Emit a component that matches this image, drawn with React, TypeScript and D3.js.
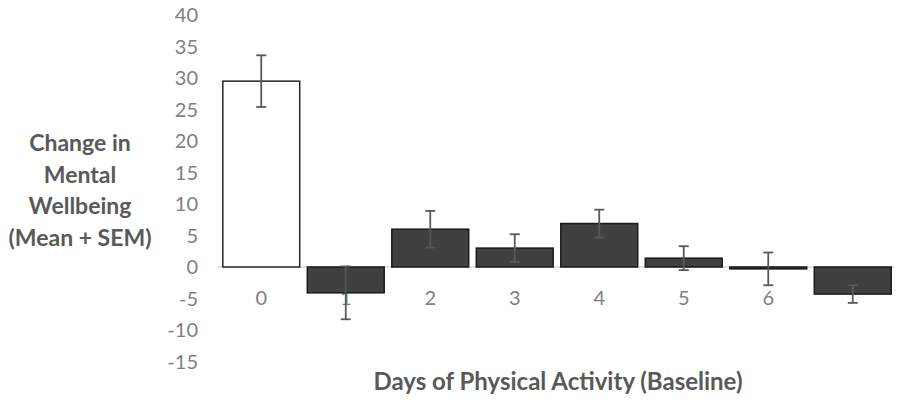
import { useEffect, useRef } from "react";
import * as d3 from "d3";

const days = [0, 1, 2, 3, 4, 5, 6, 7];
const dayLabels = ["0", "1", "2", "3", "4", "5", "6", ""];
const means = [29.5, -4.1, 6.0, 3.0, 6.9, 1.4, -0.3, -4.3];
const sems = [4.1, 4.2, 2.9, 2.2, 2.2, 1.9, 2.6, 1.4];
const yTicks = [40, 35, 30, 25, 20, 15, 10, 5, 0, -5, -10, -15];
const yTitle = ["Change in", "Mental", "Wellbeing", "(Mean + SEM)"];
const xTitle = "Days of Physical Activity (Baseline)";

const W = 906;
const H = 402;
const FONT = "Lato, 'Open Sans', sans-serif";

export default function App() {
  const svgRef = useRef<SVGSVGElement>(null);

  useEffect(() => {
    if (!svgRef.current) return;
    const svg = d3.select(svgRef.current);
    svg.selectAll("*").remove();

    const x = d3.scaleBand<number>().domain(days).range([219, 895]).paddingInner(0.09).paddingOuter(0.045);
    const y = d3.scaleLinear().domain([-15, 40]).range([361.5, 15]);

    // y tick labels
    svg
      .append("g")
      .selectAll("text")
      .data(yTicks)
      .join("text")
      .attr("x", 198)
      .attr("y", (d) => y(d))
      .attr("dy", "0.36em")
      .attr("text-anchor", "end")
      .attr("font-family", FONT)
      .attr("font-size", 20)
      .attr("fill", "#7f7f7f")
      .text((d) => String(d));

    // zero line
    svg
      .append("line")
      .attr("x1", 218)
      .attr("x2", 895)
      .attr("y1", y(0))
      .attr("y2", y(0))
      .attr("stroke", "#d9d9d9")
      .attr("stroke-width", 1.5);

    // category labels
    svg
      .append("g")
      .selectAll("text")
      .data(days)
      .join("text")
      .attr("x", (d) => x(d)! + x.bandwidth() / 2)
      .attr("y", y(0) + 31)
      .attr("dy", "0.36em")
      .attr("text-anchor", "middle")
      .attr("font-family", FONT)
      .attr("font-size", 20)
      .attr("fill", "#7f7f7f")
      .text((d) => dayLabels[d]);

    // bars
    svg
      .append("g")
      .selectAll("rect")
      .data(days)
      .join("rect")
      .attr("x", (d) => x(d)!)
      .attr("width", x.bandwidth())
      .attr("y", (d) => y(Math.max(0, means[d])))
      .attr("height", (d) => Math.abs(y(means[d]) - y(0)))
      .attr("fill", (d) => (d === 0 ? "#ffffff" : "#404040"))
      .attr("stroke", (d) => (d === 0 ? "#262626" : "#1a1a1a"))
      .attr("stroke-width", 1.5);

    // error bars
    const err = svg.append("g").attr("stroke", "#595959").attr("stroke-width", 1.8);
    days.forEach((d) => {
      const cx = x(d)! + x.bandwidth() / 2;
      const top = y(means[d] + sems[d]);
      const bot = y(means[d] - sems[d]);
      err.append("line").attr("x1", cx).attr("x2", cx).attr("y1", top).attr("y2", bot);
      [top, bot].forEach((yy) => {
        err.append("line").attr("x1", cx - 5).attr("x2", cx + 5).attr("y1", yy).attr("y2", yy);
      });
    });

    // axis titles
    svg
      .append("text")
      .attr("x", 80)
      .attr("font-family", FONT)
      .attr("font-size", 23)
      .attr("font-weight", "bold")
      .attr("fill", "#595959")
      .attr("text-anchor", "middle")
      .selectAll("tspan")
      .data(yTitle)
      .join("tspan")
      .attr("x", 80)
      .attr("y", (_, i) => 143 + i * 31.5)
      .attr("dy", "0.35em")
      .text((d) => d);

    svg
      .append("text")
      .attr("x", 558)
      .attr("y", 382)
      .attr("dy", "0.35em")
      .attr("text-anchor", "middle")
      .attr("font-family", FONT)
      .attr("font-size", 24)
      .attr("font-weight", "bold")
      .attr("fill", "#595959")
      .text(xTitle);
  }, []);

  return (
    <svg
      ref={svgRef}
      width={W}
      height={H}
      viewBox={`0 0 ${W} ${H}`}
      style={{ position: "absolute", left: 0, top: 0, background: "#ffffff" }}
    />
  );
}
